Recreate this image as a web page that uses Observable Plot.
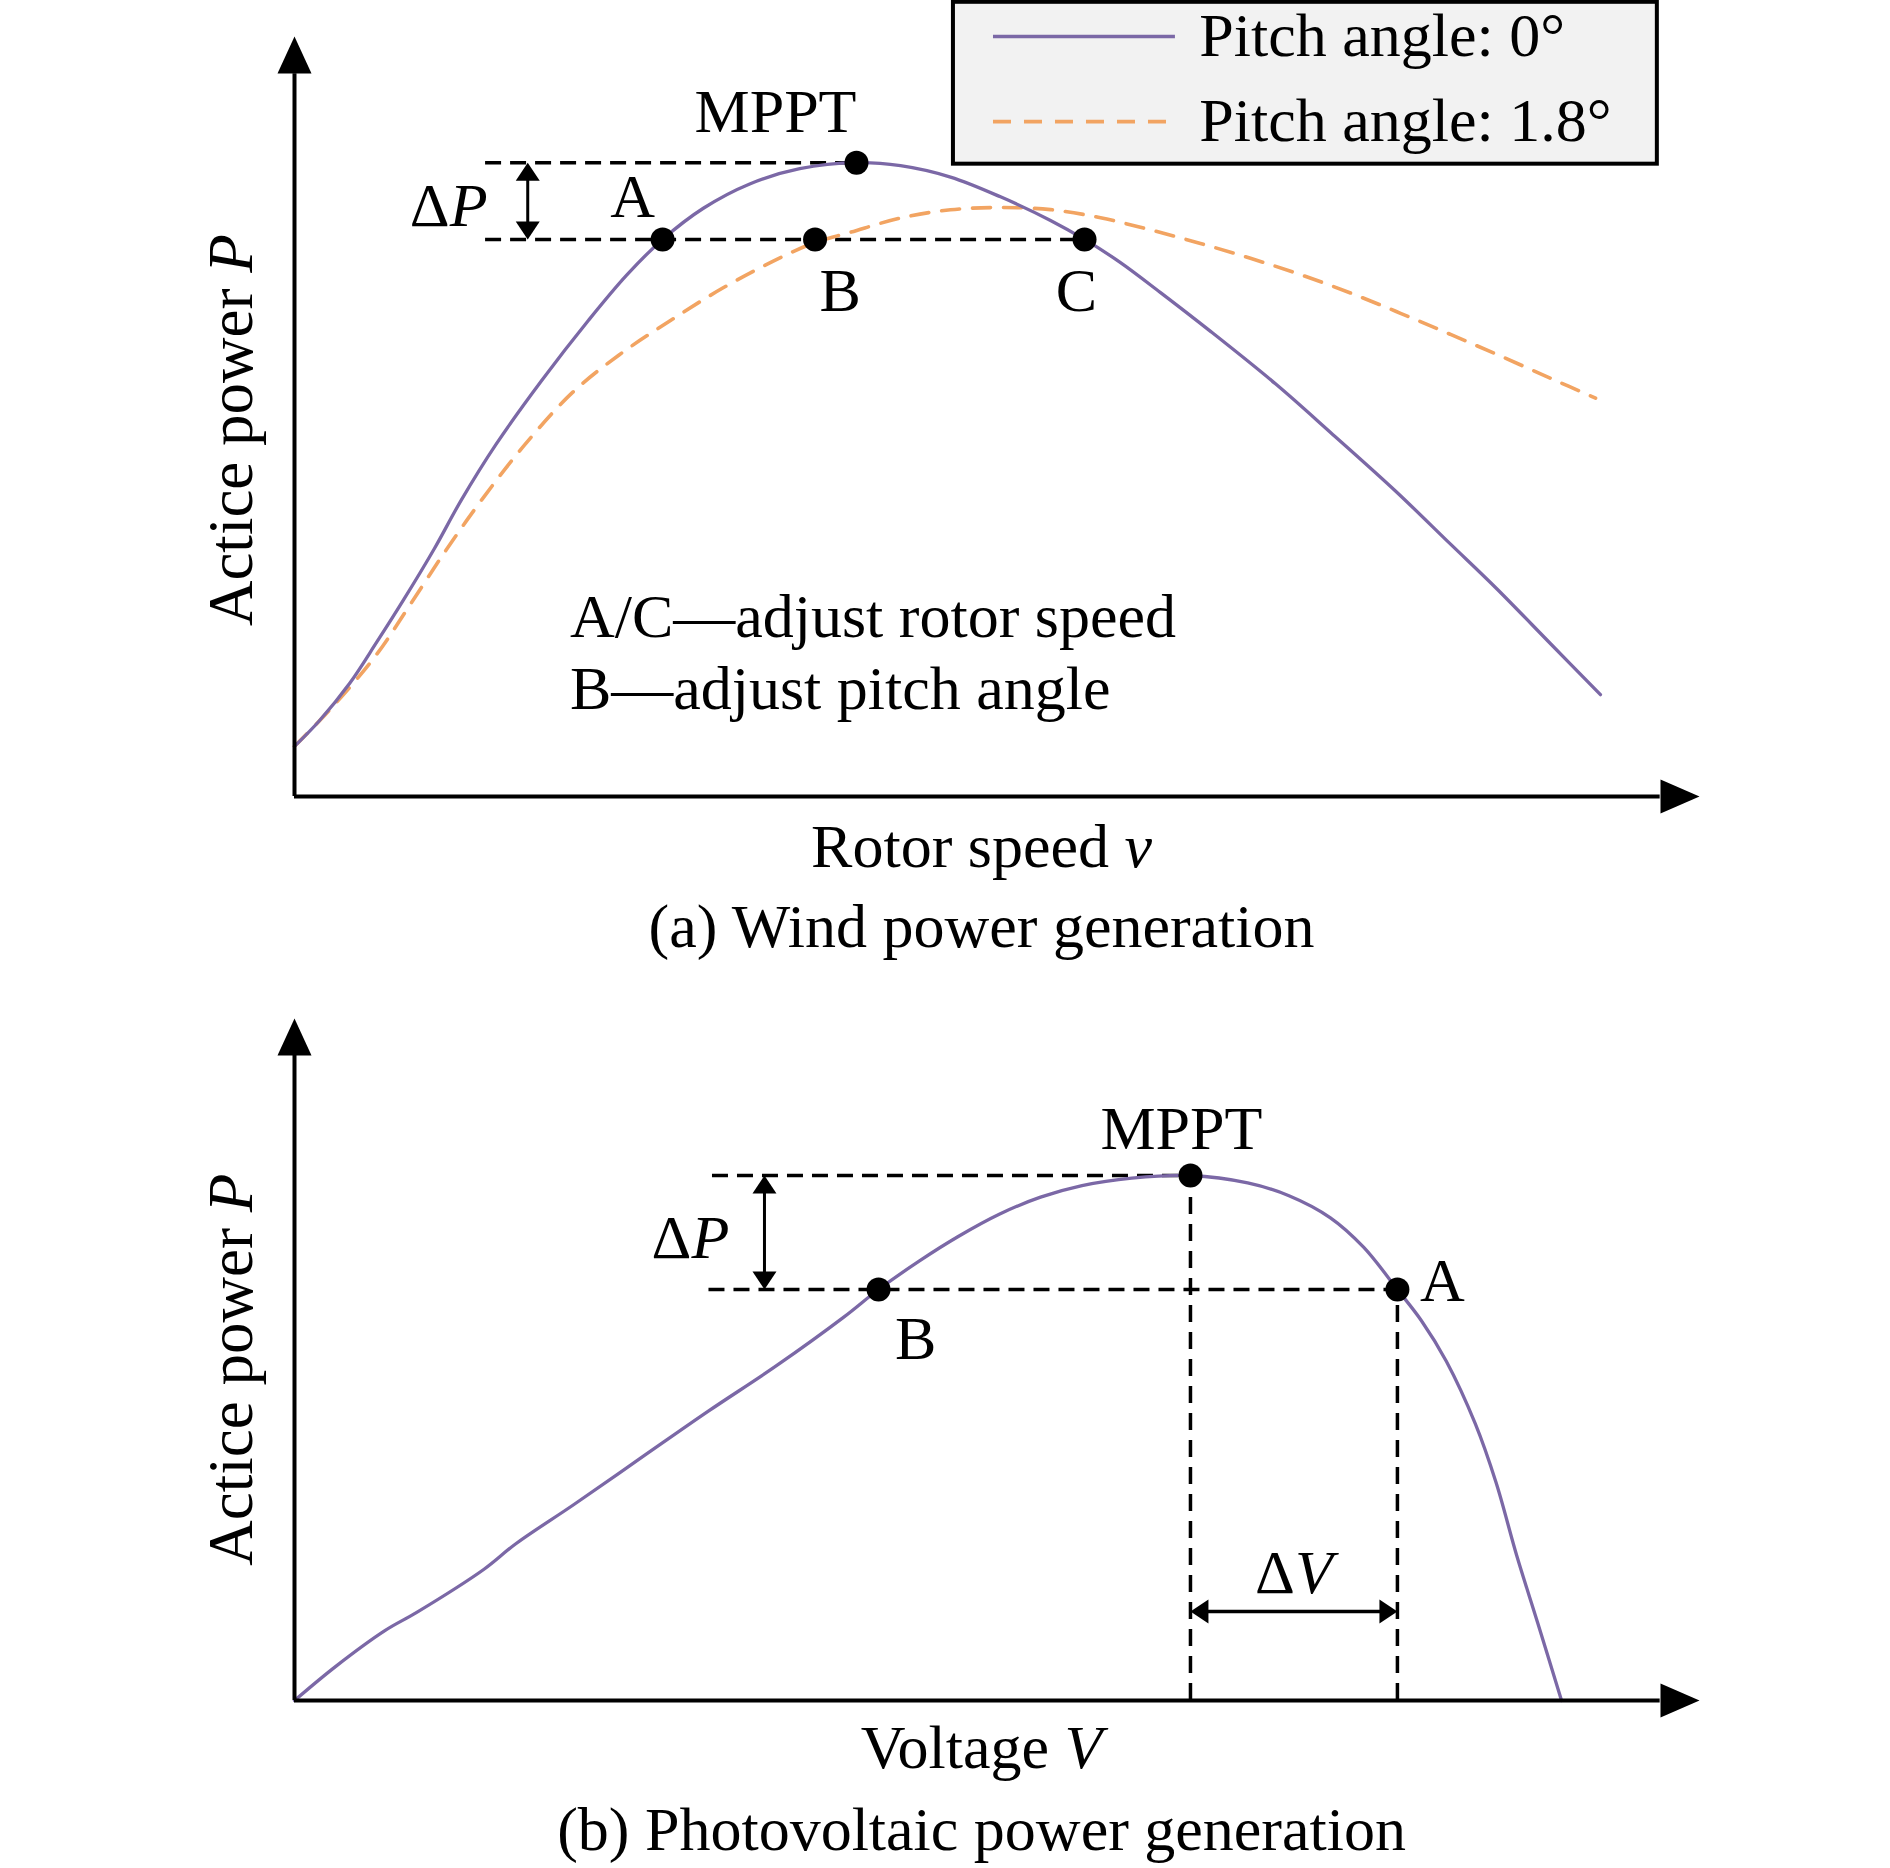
<!DOCTYPE html>
<html><head><meta charset="utf-8">
<script src="https://cdn.jsdelivr.net/npm/d3@7"></script>
<script src="https://cdn.jsdelivr.net/npm/@observablehq/plot@0.6"></script>
<style>
html,body{margin:0;padding:0;background:#fff;}
#chart{width:1890px;}
#chart svg{display:block;}
</style></head><body><div id="chart"></div>
<script>
// ---------- (a) Wind power generation ----------
const windSpeed0 = [0, 1.74, 3.93, 5.85, 7.77, 9.95, 11.87, 14.33, 17.62, 20.9, 23.64, 26.2, 29.1, 32.4, 35.96, 40.0, 43.13, 46.69, 50.25, 53.81, 56.23, 58.79, 61.64, 65.2, 69.82, 73.74, 78.36, 82.28, 85.48, 89.4, 92.95];
const windPower0 = [6.6, 9.9, 14.9, 20.3, 25.9, 32.6, 39.0, 46.3, 54.8, 62.6, 68.6, 73.3, 77.4, 80.6, 82.6, 83.4, 83.0, 81.5, 78.9, 75.8, 73.3, 70.25, 66.3, 61.2, 54.3, 47.9, 40.2, 33.2, 27.5, 20.1, 13.4];
const windSpeed18 = [0, 2.56, 5.85, 8.04, 10.78, 13.51, 16.53, 19.81, 23.1, 26.65, 30.48, 34.7, 37.05, 39.5, 43.1, 46.69, 50.25, 53.81, 57.37, 60.93, 64.48, 68.04, 71.6, 75.16, 78.72, 82.28, 85.84, 89.4, 92.6];
const windPower18 = [6.6, 11.5, 18.7, 24.7, 32.4, 39.5, 46.6, 53.2, 58.1, 62.5, 66.9, 71.0, 72.9, 74.2, 76.1, 77.2, 77.5, 77.22, 76.15, 74.55, 72.77, 70.81, 68.67, 66.25, 63.58, 60.8, 57.95, 55.03, 52.41];
const windPointNames = ["MPPT", "A", "B", "C"];
const windPointX = [40.0, 26.2, 37.05, 56.23];
const windPointY = [83.4, 73.3, 73.3, 73.3];
const windSeriesNames = ["Pitch angle: 0°", "Pitch angle: 1.8°"];
const windNotes = ["A/C—adjust rotor speed", "B—adjust pitch angle"];
const windXLabel = "Rotor speed v";
const windCaption = "(a) Wind power generation";
const yLabel = "Actice power P";

// ---------- (b) Photovoltaic power generation ----------
const pvVoltage = [0, 2.94, 6.46, 8.70, 13.49, 15.73, 19.89, 24.68, 29.48, 34.28, 39.07, 41.57, 44.51, 47.21, 50.16, 53.1, 56.05, 59.59, 63.77, 67.84, 70.78, 73.73, 76.09, 78.5, 80.21, 81.98, 84.04, 85.52, 87.0, 88.47, 90.18];
const pvPower = [0, 5.01, 10.28, 12.92, 19.25, 22.95, 28.74, 35.6, 42.46, 49.05, 56.17, 60.26, 64.5, 68.0, 71.3, 73.8, 75.5, 76.6, 76.98, 75.89, 74.02, 70.78, 66.47, 60.26, 55.69, 49.75, 40.59, 31.96, 21.19, 11.48, 0];
const pvPointNames = ["MPPT", "B", "A"];
const pvPointX = [63.77, 41.57, 78.5];
const pvPointY = [76.98, 60.26, 60.26];
const pvXLabel = "Voltage V";
const pvCaption = "(b) Photovoltaic power generation";

// ---------- styling ----------
const FONT = "Liberation Serif";
const FS = 62;
const PURPLE = "#7b68a6";
const ORANGE = "#f2a462";
const italicParts = {
  "Actice power P": ["Actice power ", "P"],
  "Rotor speed v": ["Rotor speed ", "v"],
  "Voltage V": ["Voltage ", "V"],
  "ΔP": ["Δ", "P"],
  "ΔV": ["Δ", "V"]
};

// custom arrowhead symbols (tip at the data point)
const sym = (p) => ({draw(ctx) { ctx.moveTo(p[0][0], p[0][1]); for (let i = 1; i < p.length; i++) ctx.lineTo(p[i][0], p[i][1]); ctx.closePath(); }});
const axisUp = sym([[0, 0], [-17, 37], [17, 37]]);
const axisRight = sym([[0, 0], [-39, -17], [-39, 17]]);
const headUp = sym([[0, 0], [-12, 18], [12, 18]]);
const headDown = sym([[0, 0], [-12, -18], [12, -18]]);
const headLeft = sym([[0, 0], [18, -12], [18, 12]]);
const headRight = sym([[0, 0], [-18, -12], [-18, 12]]);

const zip = (xs, ys) => xs.map((x, i) => ({x, y: ys[i]}));
const mkPts = (names, xs, ys) => names.map((n, i) => ({name: n, x: xs[i], y: ys[i]}));

function txt(t, x, y, o = {}) {
  return Plot.text([t], {x: () => x, y: () => y, text: d => d, fontFamily: FONT, fontSize: FS, fill: "black", ...o});
}
function ptLabel(p, o) {
  return Plot.text([p], {x: "x", y: "y", text: "name", fontFamily: FONT, fontSize: FS, fill: "black", ...o});
}
function axes(yBase) {
  return [
    Plot.ruleY([0], {x1: 0, x2: 97.2, stroke: "black", strokeWidth: 4}),
    Plot.ruleX([0], {y1: 0, y2: yBase, stroke: "black", strokeWidth: 4}),
    Plot.dot([0], {x: () => 0, y: () => 100, symbol: axisUp, r: 1, fill: "black", stroke: "none"}),
    Plot.dot([0], {x: () => 100, y: () => 0, symbol: axisRight, r: 1, fill: "black", stroke: "none"})
  ];
}
function italicize(svg) {
  svg.querySelectorAll("text").forEach(t => {
    const parts = italicParts[t.textContent];
    if (!parts) return;
    t.textContent = "";
    t.setAttribute("style", "white-space: pre");
    const a = document.createElementNS("http://www.w3.org/2000/svg", "tspan");
    a.textContent = parts[0];
    const b = document.createElementNS("http://www.w3.org/2000/svg", "tspan");
    b.textContent = parts[1];
    b.setAttribute("font-style", "italic");
    t.appendChild(a); t.appendChild(b);
  });
}

const wp = mkPts(windPointNames, windPointX, windPointY);
const [wM, wA, wB, wC] = wp;

const plotWind = Plot.plot({
  width: 1890, height: 960,
  marginLeft: 294, marginRight: 191, marginTop: 36, marginBottom: 164,
  x: {domain: [0, 100], axis: null},
  y: {domain: [0, 100], axis: null},
  style: {fontFamily: FONT, background: "white", overflow: "visible"},
  marks: [
    Plot.ruleY([{y: wM.y, x1: 13.6, x2: wM.x}, {y: wA.y, x1: 13.6, x2: wC.x}], {y: "y", x1: "x1", x2: "x2", stroke: "black", strokeWidth: 3.5, strokeDasharray: "16,9"}),
    Plot.line(zip(windSpeed18, windPower18), {x: "x", y: "y", stroke: ORANGE, strokeWidth: 3.6, strokeDasharray: "18,13", curve: "catmull-rom"}),
    Plot.line(zip(windSpeed0, windPower0), {x: "x", y: "y", stroke: PURPLE, strokeWidth: 3.3, curve: "catmull-rom"}),
    ...axes(95.1),
    Plot.ruleX([16.6], {y1: wA.y + 1, y2: wM.y - 1, stroke: "black", strokeWidth: 3}),
    Plot.dot([0], {x: () => 16.6, y: () => wM.y, symbol: headUp, r: 1, fill: "black", stroke: "none"}),
    Plot.dot([0], {x: () => 16.6, y: () => wA.y, symbol: headDown, r: 1, fill: "black", stroke: "none"}),
    txt("ΔP", 16.6, (wM.y + wA.y) / 2, {dx: -79, dy: 5}),
    Plot.dot(wp, {x: "x", y: "y", r: 12, fill: "black", stroke: "none"}),
    ptLabel(wM, {dx: -81, dy: -51}),
    ptLabel(wA, {dx: -30, dy: -42}),
    ptLabel(wB, {dx: 25, dy: 52}),
    ptLabel(wC, {dx: -8, dy: 52}),
    Plot.text(windNotes, {x: () => 19.6, y: (d, i) => [23.1, 13.6][i], text: d => d, textAnchor: "start", dy: -4, fontFamily: FONT, fontSize: FS, fill: "black"}),
    Plot.rect([0], {x1: () => 46.9, x2: () => 97.0, y1: () => 83.2, y2: () => 104.5, fill: "#f2f2f2", stroke: "black", strokeWidth: 4}),
    Plot.ruleY([100], {x1: 49.75, x2: 62.7, stroke: PURPLE, strokeWidth: 3.5}),
    Plot.ruleY([88.8], {x1: 49.75, x2: 62.7, stroke: ORANGE, strokeWidth: 3.6, strokeDasharray: "18,13"}),
    Plot.text(windSeriesNames, {x: () => 64.4, y: (d, i) => [100, 88.8][i], text: d => d, textAnchor: "start", fontFamily: FONT, fontSize: FS, fill: "black"}),
    txt(yLabel, -4.45, 48.2, {rotate: -90, fontSize: 63}),
    txt(windXLabel, 48.9, -7.4, {dy: -6}),
    txt(windCaption, 48.9, -18.0, {dy: -6})
  ]
});

const pp = mkPts(pvPointNames, pvPointX, pvPointY);
const [pM, pB, pA] = pp;

const plotPV = Plot.plot({
  width: 1890, height: 908,
  marginLeft: 294, marginRight: 191, marginTop: 58, marginBottom: 168,
  x: {domain: [0, 100], axis: null},
  y: {domain: [0, 100], axis: null},
  style: {fontFamily: FONT, background: "white", overflow: "visible"},
  marks: [
    Plot.ruleY([{y: pM.y, x1: 29.75, x2: pM.x}, {y: pA.y, x1: 29.5, x2: pA.x}], {y: "y", x1: "x1", x2: "x2", stroke: "black", strokeWidth: 3.5, strokeDasharray: "16,9"}),
    Plot.ruleX([{x: pM.x, y2: pM.y}, {x: pA.x, y2: pA.y}], {x: "x", y1: () => 0, y2: "y2", stroke: "black", strokeWidth: 3.5, strokeDasharray: "17,10"}),
    Plot.line(zip(pvVoltage, pvPower), {x: "x", y: "y", stroke: PURPLE, strokeWidth: 3.3, curve: "catmull-rom"}),
    ...axes(94.7),
    Plot.ruleX([33.45], {y1: pB.y + 1, y2: pM.y - 1, stroke: "black", strokeWidth: 3}),
    Plot.dot([0], {x: () => 33.45, y: () => pM.y, symbol: headUp, r: 1, fill: "black", stroke: "none"}),
    Plot.dot([0], {x: () => 33.45, y: () => pB.y, symbol: headDown, r: 1, fill: "black", stroke: "none"}),
    txt("ΔP", 33.45, (pM.y + pB.y) / 2, {dx: -74, dy: 6}),
    Plot.ruleY([13.05], {x1: pM.x + 0.5, x2: pA.x - 0.5, stroke: "black", strokeWidth: 3.5}),
    Plot.dot([0], {x: () => pM.x, y: () => 13.05, symbol: headLeft, r: 1, fill: "black", stroke: "none"}),
    Plot.dot([0], {x: () => pA.x, y: () => 13.05, symbol: headRight, r: 1, fill: "black", stroke: "none"}),
    txt("ΔV", (pM.x + pA.x) / 2, 13.05, {dy: -38}),
    Plot.dot(pp, {x: "x", y: "y", r: 12, fill: "black", stroke: "none"}),
    ptLabel(pM, {dx: -9, dy: -46}),
    ptLabel(pB, {dx: 37, dy: 50}),
    ptLabel(pA, {dx: 45, dy: -8}),
    txt(yLabel, -4.45, 48.5, {rotate: -90, fontSize: 63}),
    txt(pvXLabel, 48.9, -7.9, {dy: -6}),
    txt(pvCaption, 48.9, -20.4, {dy: -9})
  ]
});

italicize(plotWind);
italicize(plotPV);
const root = document.getElementById("chart");
root.appendChild(plotWind);
root.appendChild(plotPV);
</script>
</body></html>
